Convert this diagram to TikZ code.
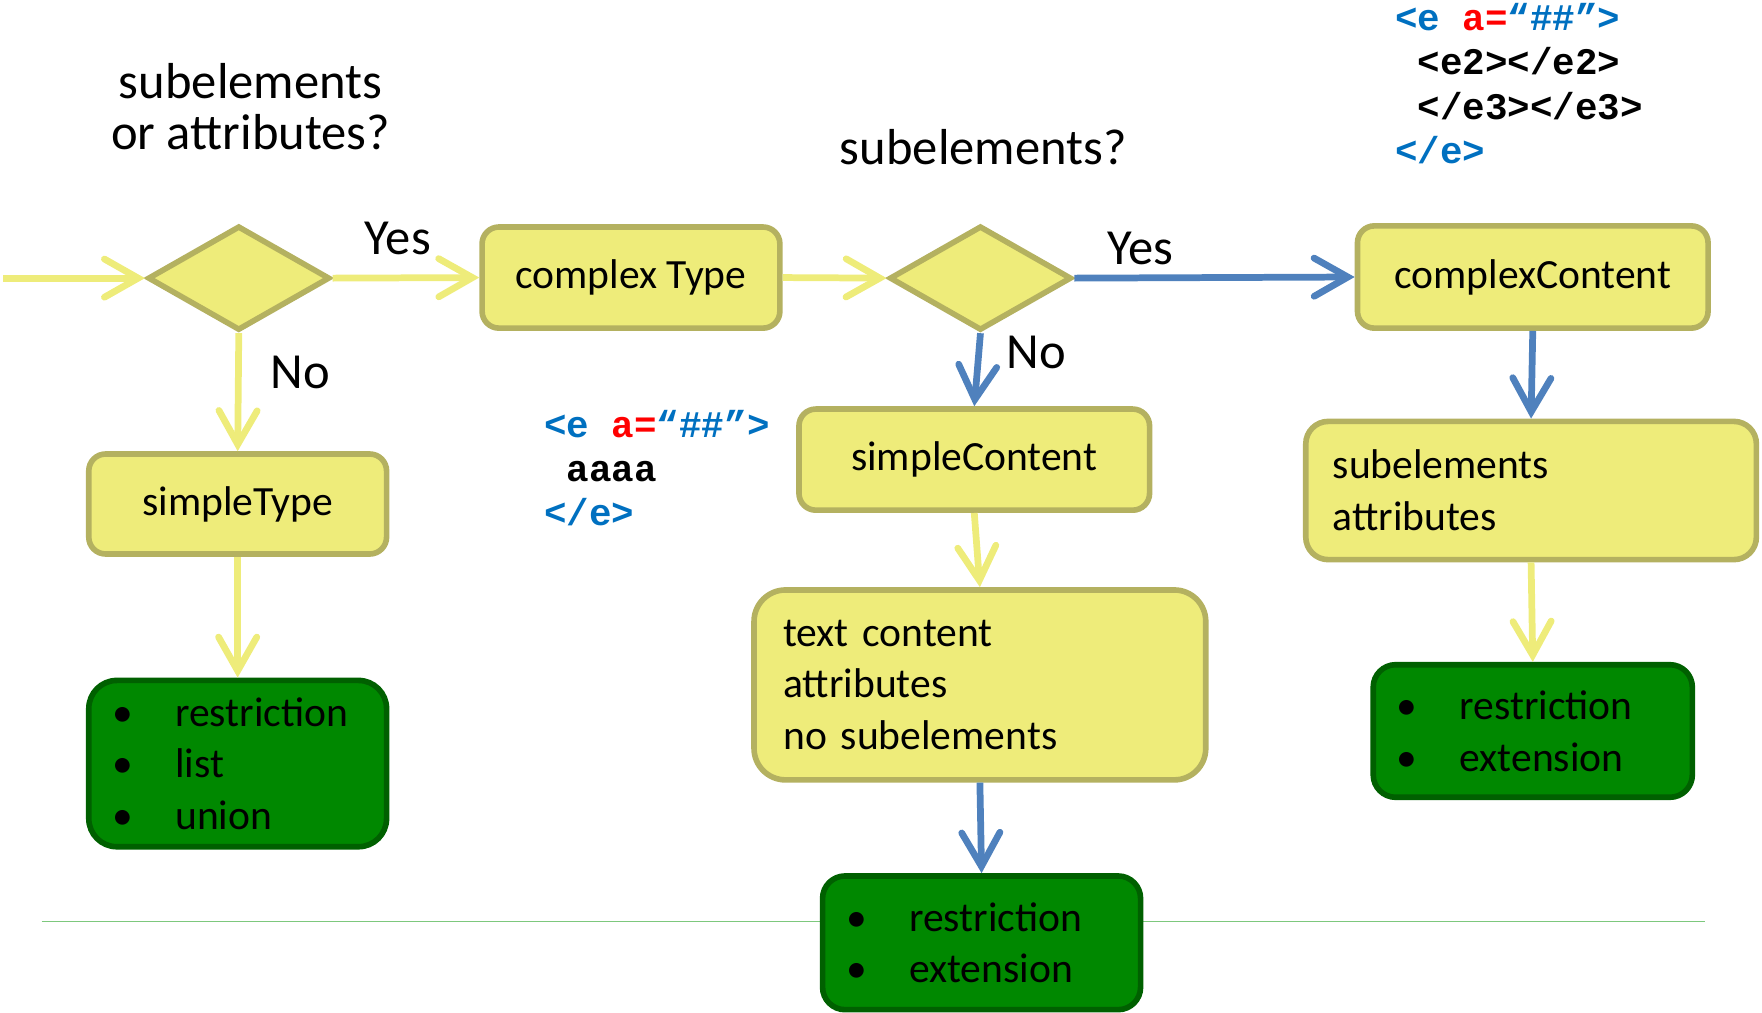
\documentclass[tikz,border=0pt]{standalone}
\usepackage{fontspec}
\setmainfont{Carlito}
\newfontfamily\codefont{Liberation Mono}
\usepackage{xcolor}
\usetikzlibrary{shapes.geometric}
\usetikzlibrary{arrows.meta}
\definecolor{boxfill}{RGB}{238,236,122}
\definecolor{boxline}{RGB}{180,177,96}
\definecolor{leaffill}{RGB}{0,136,0}
\definecolor{leafline}{RGB}{0,96,0}
\definecolor{flowblue}{RGB}{79,129,189}
\definecolor{codeblue}{RGB}{0,112,192}
\definecolor{rulegreen}{RGB}{125,200,125}
\newcommand{\bul}[1]{\makebox[28pt][l]{\textbullet}#1}

\begin{document}
\begin{tikzpicture}[x=0.5pt,y=-0.5pt,
    box/.style={draw=boxline,fill=boxfill,line width=2.5pt,rounded corners=7.5pt,
      inner sep=0pt,font=\fontsize{18.5}{23}\selectfont},
    leaf/.style={draw=leafline,fill=leaffill,line width=2.5pt,rounded corners=10pt,
      inner xsep=10.5pt,inner ysep=0pt,align=left,font=\fontsize{18.5}{23}\selectfont},
    choice/.style={diamond,draw=boxline,fill=boxfill,line width=2.5pt,inner sep=0pt,
      minimum width=81pt,minimum height=46.5pt},
    flow/.style={line width=3pt,-{Straight Barb[length=15pt,width=17pt,line cap=round]}},
    ylw/.style={flow,draw=boxfill},
    blu/.style={flow,draw=flowblue},
    ask/.style={font=\fontsize{22.5}{23}\selectfont,align=center},
    code/.style={anchor=west,inner sep=0pt,align=left,
      font=\codefont\bfseries\fontsize{16.7}{19.75}\selectfont},
  ]
  \useasboundingbox (0,0) rectangle (1568,901);

  \coordinate (rule-l) at (37,820);
  \coordinate (rule-r) at (1517,820);
  \draw[rulegreen,line width=0.8pt] (rule-l) -- (rule-r);

  \node[ask] (q1) at (223,95) {subelements\\or attributes?};
  \node[ask] (q2) at (875,131) {subelements?};

  \node[choice] (d1) at (212.5,247.5) {};
  \node[choice] (d2) at (872.5,247.5) {};

  \node[box,minimum width=132.5pt,minimum height=45pt] (ct) at (561.5,247) {complex Type};
  \node[box,minimum width=156pt,minimum height=45.5pt] (cc) at (1364,246.5) {complexContent};
  \node[box,minimum width=132.5pt,minimum height=44.5pt] (st) at (211.5,448.5) {simpleType};
  \node[box,minimum width=156pt,minimum height=45pt] (sc) at (867,409) {simpleContent};
  \node[box,rounded corners=10pt,inner xsep=12pt,text width=176.5pt,align=left,
    minimum height=61.5pt] (sub) at (1362.5,436.5) {subelements\\attributes};
  \node[box,rounded corners=14pt,inner xsep=13pt,text width=175pt,align=left,
    minimum height=84.5pt] (tc) at (872,609.5) {text content\\attributes\\no subelements};

  \node[leaf,rounded corners=12.5pt,text width=111.5pt,minimum height=74pt] (g1)
    at (211.5,679.5) {\bul{restriction}\\\bul{list}\\\bul{union}};
  \node[leaf,text width=120.5pt,minimum height=59.5pt] (g2)
    at (873.5,839) {\bul{restriction}\\\bul{extension}};
  \node[leaf,text width=121pt,minimum height=59pt] (g3)
    at (1364,650.5) {\bul{restriction}\\\bul{extension}};

  \node[ask] (yes1) at (354,212) {Yes};
  \node[ask] (no1) at (267,331) {No};
  \node[ask] (yes2) at (1015,221) {Yes};
  \node[ask] (no2) at (922,314) {No};

  \node[code] (xml1) at (484,416.5)
    {\textcolor{codeblue}{<e} \textcolor{red}{a=}\textcolor{codeblue}{“\#\#”>}\\
     \hspace*{0.6em}aaaa\\
     \textcolor{codeblue}{</e>}};
  \node[code] (xml2) at (1241,74.5)
    {\textcolor{codeblue}{<e} \textcolor{red}{a=}\textcolor{codeblue}{“\#\#”>}\\
     \hspace*{0.6em}<e2></e2>\\
     \hspace*{0.6em}</e3></e3>\\
     \textcolor{codeblue}{</e>}};

  \coordinate (in) at (3,247.5);
  \draw[ylw] (in) -- (d1.west);
  \draw[ylw] (d1.east) -- (ct.west);
  \draw[ylw] (ct.east) -- (d2.west);
  \draw[blu] (d2.east) -- (cc.west);
  \draw[ylw] (d1.south) -- (st.north);
  \draw[ylw] (st.south) -- (g1.north);
  \draw[blu] (d2.south) -- (sc.north);
  \draw[ylw] (sc.south) -- (tc.north);
  \draw[blu] (tc.south) -- (g2.north);
  \draw[blu] (cc.south) -- (sub.north);
  \draw[ylw] (sub.south) -- (g3.north);
\end{tikzpicture}
\end{document}
